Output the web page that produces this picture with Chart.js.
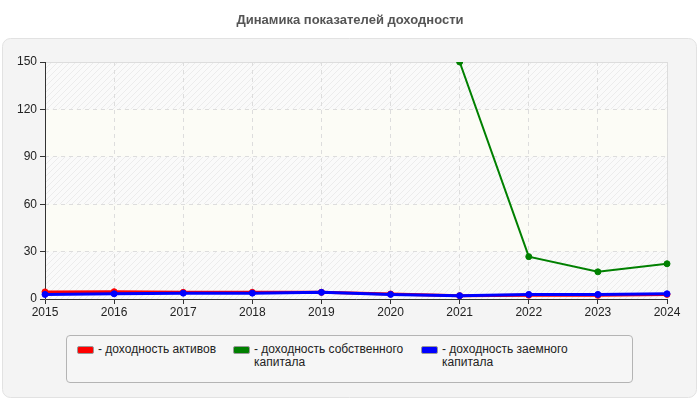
<!DOCTYPE html>
<html>
<head>
<meta charset="utf-8">
<script src="https://cdn.jsdelivr.net/npm/chart.js@4"></script>
<style>
  body { margin: 0; background: #fff; font-family: "Liberation Sans", Arial, sans-serif; }
  #wrap { position: relative; width: 700px; height: 400px; }
  #legend { position: absolute; left: 66px; top: 335px; width: 565px; height: 46px;
    border: 1px solid #b4b4b4; border-radius: 4px; background: #f6f6f6; }
  .item { position: absolute; top: 7px; font-size: 12px; line-height: 13px; color: #222; }
  .sw { position: absolute; left: 0; top: 3px; width: 15px; height: 6px; border-radius: 2px; }
  .txt { position: absolute; left: 21px; top: 0; white-space: normal; }
</style>
</head>
<body>
<div id="wrap">
  <canvas id="c" width="700" height="400"></canvas>
  <div id="legend"></div>
</div>
<script>
const years = ['2015','2016','2017','2018','2019','2020','2021','2022','2023','2024']
const assets = [4.5, 4.6, 4.2, 4.2, 4.2, 3.2, 2.1, 2.4, 2.3, 2.9]
const equity = [null, null, null, null, null, null, 150, 26.8, 17.2, 22.3]
const borrowed = [2.9, 3.3, 3.7, 3.7, 4.2, 2.9, 2.1, 2.9, 2.9, 3.3]
const names = ['- доходность активов', '- доходность собственного капитала', '- доходность заемного капитала']
const colors = ['#ff0000', '#008000', '#0000ff']
const yTicks = [0, 30, 60, 90, 120, 150]

// hatched fill for the plot area
const pat = document.createElement('canvas')
pat.width = 6; pat.height = 6
const pc = pat.getContext('2d')
pc.fillStyle = '#fafafa'; pc.fillRect(0, 0, 6, 6)
pc.strokeStyle = '#ececec'; pc.lineWidth = 1
pc.beginPath(); pc.moveTo(0, 6); pc.lineTo(6, 0); pc.moveTo(-1, 1); pc.lineTo(1, -1); pc.moveTo(5, 7); pc.lineTo(7, 5); pc.stroke()

const bgPlugin = {
  id: 'bg',
  beforeDraw(chart) {
    const ctx = chart.ctx
    ctx.save()
    ctx.fillStyle = '#f4f4f4'
    ctx.strokeStyle = '#e2e2e2'
    ctx.beginPath()
    ctx.roundRect(2.5, 38.5, 694, 359, 8)
    ctx.fill(); ctx.stroke()
    ctx.font = 'bold 13px "Liberation Sans", Arial'
    ctx.fillStyle = '#555'
    ctx.textAlign = 'center'
    ctx.fillText('Динамика показателей доходности', 350, 24)
    const a = chart.chartArea, y = chart.scales.y
    ctx.fillStyle = ctx.createPattern(pat, 'repeat')
    ctx.fillRect(a.left, a.top, a.right - a.left, a.bottom - a.top)
    ctx.fillStyle = '#fcfcf6'
    ;[[30, 60], [90, 120]].forEach(b => {
      const t = y.getPixelForValue(b[1]), bt = y.getPixelForValue(b[0])
      ctx.fillRect(a.left, t, a.right - a.left, bt - t)
    })
    ctx.strokeStyle = '#dcdcdc'
    ctx.strokeRect(a.left + 0.5, a.top + 0.5, a.right - a.left, a.bottom - a.top)
    ctx.restore()
  },
  beforeDatasetsDraw(chart) {
    // solid axis lines
    const ctx = chart.ctx, a = chart.chartArea
    ctx.save()
    ctx.strokeStyle = '#333'
    ctx.lineWidth = 1
    ctx.beginPath()
    ctx.moveTo(Math.round(a.left) + 0.5, a.top)
    ctx.lineTo(Math.round(a.left) + 0.5, Math.round(a.bottom) + 0.5)
    ctx.lineTo(a.right, Math.round(a.bottom) + 0.5)
    ctx.stroke()
    ctx.restore()
  }
}

const ds = [
  { label: names[0], data: assets, order: 2, borderWidth: 3 },
  { label: names[1], data: equity, order: 1, borderWidth: 2 },
  { label: names[2], data: borrowed, order: 0, borderWidth: 3 }
].map((d, i) => Object.assign(d, {
  borderColor: colors[i], backgroundColor: colors[i], pointBackgroundColor: colors[i],
  pointBorderColor: colors[i], pointRadius: 3, pointBorderWidth: 1, tension: 0
}))

new Chart(document.getElementById('c'), {
  type: 'line',
  data: { labels: years, datasets: ds },
  options: {
    responsive: false,
    animation: false,
    layout: { padding: { left: 0, right: 33, top: 62, bottom: 0 } },
    plugins: { legend: { display: false }, tooltip: { enabled: false } },
    scales: {
      x: {
        offset: false,
        grid: { color: '#dddddd', tickColor: '#333', tickLength: 5, drawOnChartArea: true },
        border: { display: false, dash: [4, 4] },
        ticks: { color: '#222', font: { size: 12, family: '"Liberation Sans", Arial' }, padding: 1, maxRotation: 0 },
        afterFit(s) { s.height = 101 }
      },
      y: {
        min: 0, max: 150,
        afterBuildTicks(s) { s.ticks = yTicks.map(v => ({ value: v })) },
        grid: { color: '#dddddd', tickColor: '#333', tickLength: 5 },
        border: { display: false, dash: [4, 4] },
        ticks: { color: '#222', font: { size: 12, family: '"Liberation Sans", Arial' }, padding: 3 },
        afterFit(s) { s.width = 45 }
      }
    }
  },
  plugins: [bgPlugin]
})

const leg = document.getElementById('legend')
const xs = [10, 166, 354]
const widths = [140, 175, 170]
names.forEach((n, i) => {
  const it = document.createElement('div')
  it.className = 'item'
  it.style.left = xs[i] + 'px'
  it.style.width = widths[i] + 'px'
  it.innerHTML = '<div class="sw" style="background:' + colors[i] + ';border:1px solid #999"></div><div class="txt">' + n + '</div>'
  leg.appendChild(it)
})
</script>
</body>
</html>
